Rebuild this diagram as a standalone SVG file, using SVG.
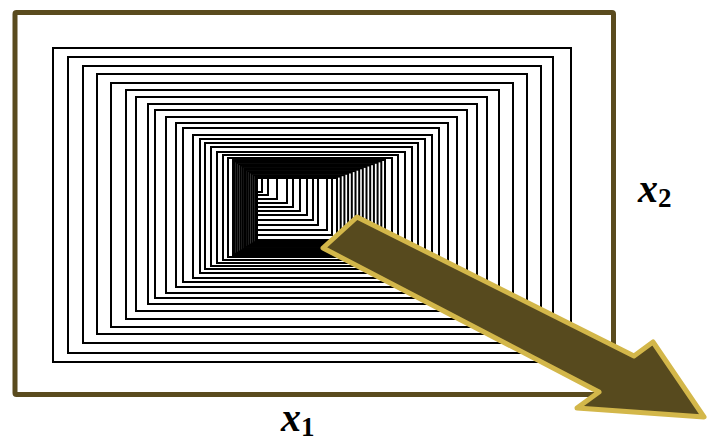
<svg xmlns="http://www.w3.org/2000/svg" width="707" height="439" viewBox="0 0 707 439">
<style>
.c{fill:none;stroke:#000;stroke-width:2}
.lbl{font-family:"Liberation Serif","Times New Roman",serif;font-style:italic;font-weight:bold;font-size:40px;fill:#000}
.sub{font-style:normal;font-size:27px}
</style>
<rect width="707" height="439" fill="#fff"/>
<g id="frame">
<rect x="15" y="12.5" width="598.5" height="382" fill="none" stroke="#5a4b1e" stroke-width="5" rx="1.5"/>
</g>
<g id="contours">
<rect class="c" x="53" y="48" width="518" height="314"/>
<rect class="c" x="68" y="57" width="485" height="296"/>
<rect class="c" x="83" y="66" width="458" height="277"/>
<rect class="c" x="97" y="74" width="430" height="260"/>
<rect class="c" x="111" y="83" width="402" height="244"/>
<rect class="c" x="126" y="90" width="373" height="229"/>
<rect class="c" x="136" y="97" width="351" height="214"/>
<rect class="c" x="148" y="104" width="329" height="200"/>
<rect class="c" x="155" y="110" width="312" height="188"/>
<rect class="c" x="166" y="117" width="291" height="176"/>
<rect class="c" x="176" y="123" width="272" height="164"/>
<rect class="c" x="183" y="128" width="256" height="154"/>
<rect class="c" x="193" y="135" width="239" height="143"/>
<rect class="c" x="200" y="139" width="225" height="134"/>
<rect class="c" x="205" y="143" width="213" height="126"/>
<rect class="c" x="211" y="147" width="201" height="119"/>
<rect class="c" x="217" y="152" width="188" height="111"/>
<rect class="c" x="223" y="155" width="175" height="105"/>
<rect class="c" x="228" y="158" width="164" height="99"/>
<rect class="c" x="233" y="160" width="152" height="95"/>
<rect class="c" x="234.8" y="161.4" width="146.5" height="92.4"/>
<rect class="c" x="236.7" y="162.8" width="140.9" height="89.9"/>
<rect class="c" x="238.5" y="164.2" width="135.4" height="87.3"/>
<rect class="c" x="240.4" y="165.5" width="129.8" height="84.9"/>
<rect class="c" x="242.2" y="166.9" width="124.3" height="82.3"/>
<rect class="c" x="244.1" y="168.3" width="118.7" height="79.8"/>
<rect class="c" x="245.9" y="169.7" width="113.3" height="77.2"/>
<rect class="c" x="247.8" y="171.1" width="107.7" height="74.7"/>
<rect class="c" x="249.6" y="172.5" width="102.2" height="72.1"/>
<rect class="c" x="251.5" y="173.8" width="96.6" height="69.7"/>
<rect class="c" x="253.3" y="175.2" width="91.1" height="67.1"/>
<rect class="c" x="255.2" y="176.6" width="85.5" height="64.6"/>
<rect class="c" x="257" y="178" width="80" height="62"/>
<rect class="c" x="257" y="178" width="75" height="57"/>
<rect class="c" x="257" y="178" width="70" height="52"/>
<rect class="c" x="257" y="178" width="61" height="47"/>
<rect class="c" x="257" y="178" width="56" height="42"/>
<rect class="c" x="257" y="178" width="50" height="37"/>
<rect class="c" x="257" y="178" width="43" height="33"/>
<rect class="c" x="257" y="178" width="36" height="29"/>
<rect class="c" x="257" y="178" width="30" height="25"/>
<rect class="c" x="257" y="178" width="20" height="21"/>
<rect class="c" x="257" y="178" width="11" height="17"/>
<rect class="c" x="257" y="178" width="5" height="14"/>
</g>
<g id="arrow">
<polygon points="357,217 634,356 653,342 704,417 577,408 599,392 323,248" fill="#574a1e" stroke="#d3b74a" stroke-width="5" stroke-linejoin="round"/>
</g>
<g id="labels">
<text class="lbl" x="281" y="431">x<tspan class="sub" dy="5">1</tspan></text>
<text class="lbl" x="638" y="202">x<tspan class="sub" dy="5">2</tspan></text>
</g>
</svg>
